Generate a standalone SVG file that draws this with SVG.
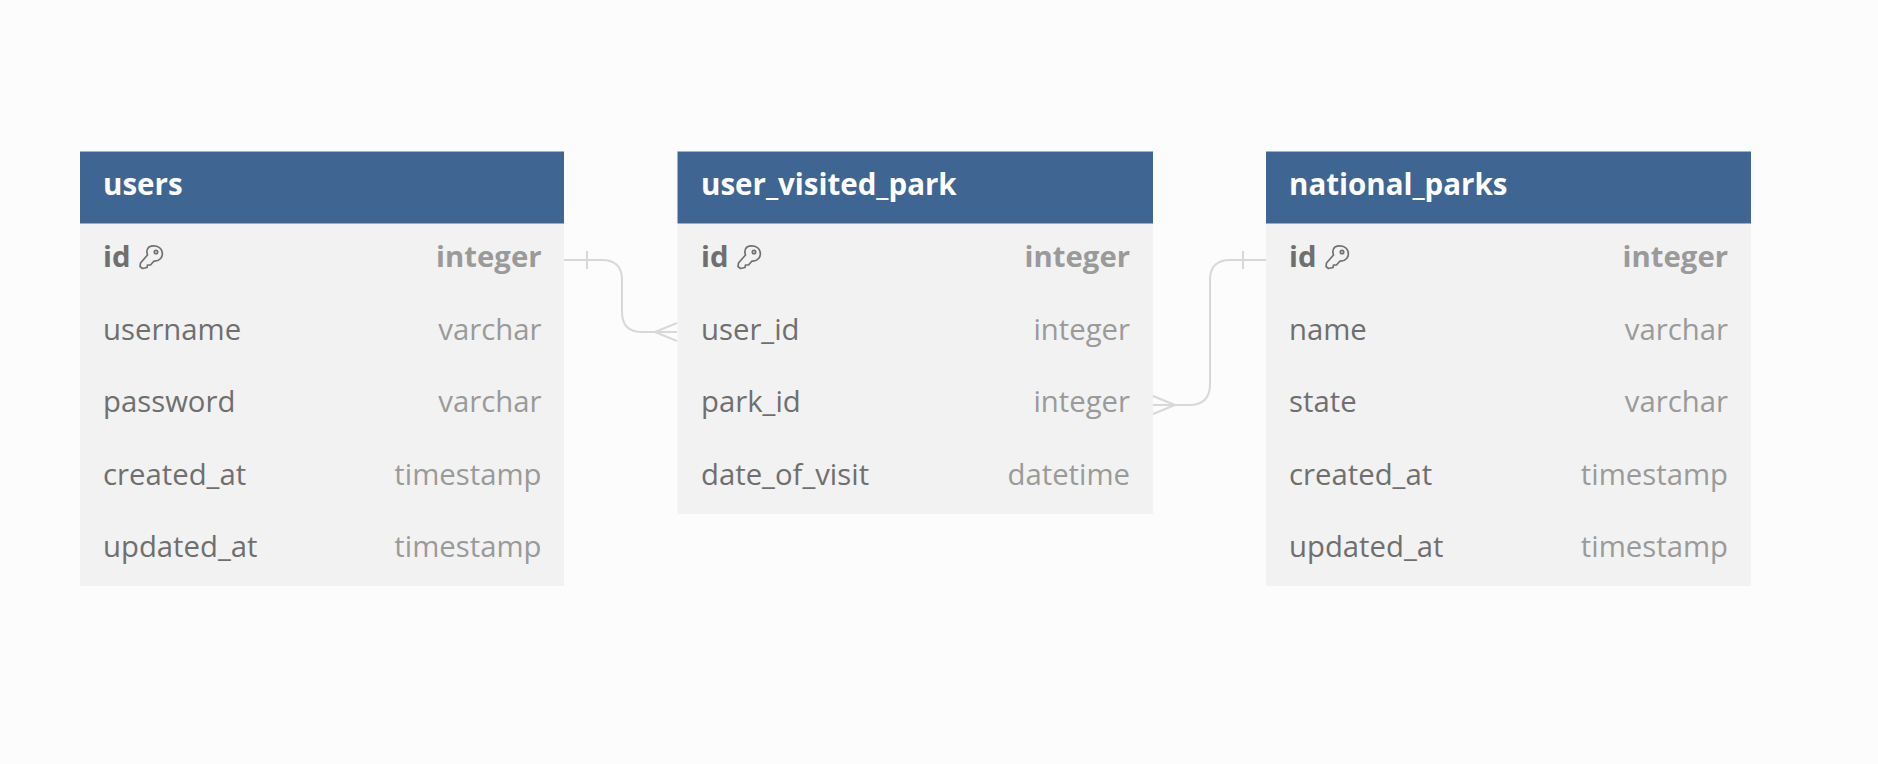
<svg xmlns="http://www.w3.org/2000/svg" xmlns:xlink="http://www.w3.org/1999/xlink" width="1878" height="764" viewBox="0 0 1878 764">
<style>
text{font-family:"Open Sans","Noto Sans",sans-serif;font-size:29.300px}
.bg{fill:#f2f2f2}
.hd{fill:#3f6692}
.t{fill:#fff;font-weight:700;font-size:29.500px}
.n{fill:#6f6f6f}
.y{fill:#9a9a9a;text-anchor:end}
.b{font-weight:700}
.c{fill:none;stroke:#d8d8d8;stroke-width:2}
.k{fill:none;stroke:#707070;stroke-width:1.700;stroke-linejoin:round}
</style>
<defs>
<g id="key"><path class="k" d="M9.500 1.500C14 -1 21 0.500 22.500 6C24 11.500 20 16 14.500 15.500L11 19.500L8 19.500L7.500 22L3 23L0.500 21L1 17.500L8 9.500C7 6.500 7.500 3 9.500 1.500Z"/><circle cx="16.500" cy="6.500" r="1.700" class="k"/></g>
</defs>
<rect width="1878" height="764" fill="#fcfcfc"/>
<g id="connectors">
<path class="c" d="M564 260H602Q622 260 622 280V312Q622 332 642 332H677"/>
<path class="c" d="M587 251V269M655 332L677 323M655 332L677 341"/>
<path class="c" d="M1153 405H1189Q1210 405 1210 384V280Q1210 260 1230 260H1266"/>
<path class="c" d="M1243 251V269M1175 405L1153 396M1175 405L1153 414"/>
</g>
<g id="users">
<rect class="bg" x="80" y="223" width="484" height="363"/>
<rect class="hd" x="80" y="151.500" width="484" height="72"/>
<text class="t" x="103" y="194.500">users</text>
<text class="n b" x="103" y="267">id</text><use xlink:href="#key" href="#key" x="139.500" y="245.500"/><text class="y b" x="541.500" y="267">integer</text>
<text class="n" x="103" y="340">username</text><text class="y" x="541.500" y="340">varchar</text>
<text class="n" x="103" y="412">password</text><text class="y" x="541.500" y="412">varchar</text>
<text class="n" x="103" y="484.500">created_at</text><text class="y" x="541.500" y="484.500">timestamp</text>
<text class="n" x="103" y="557">updated_at</text><text class="y" x="541.500" y="557">timestamp</text>
</g>
<g id="user_visited_park">
<rect class="bg" x="677.500" y="223" width="475.500" height="291"/>
<rect class="hd" x="677.500" y="151.500" width="475.500" height="72"/>
<text class="t" x="701" y="194.500">user_visited_park</text>
<text class="n b" x="701" y="267">id</text><use xlink:href="#key" href="#key" x="737.500" y="245.500"/><text class="y b" x="1130" y="267">integer</text>
<text class="n" x="701" y="340">user_id</text><text class="y" x="1130" y="340">integer</text>
<text class="n" x="701" y="412">park_id</text><text class="y" x="1130" y="412">integer</text>
<text class="n" x="701" y="484.500">date_of_visit</text><text class="y" x="1130" y="484.500">datetime</text>
</g>
<g id="national_parks">
<rect class="bg" x="1266" y="223" width="485" height="363"/>
<rect class="hd" x="1266" y="151.500" width="485" height="72"/>
<text class="t" x="1289" y="194.500">national_parks</text>
<text class="n b" x="1289" y="267">id</text><use xlink:href="#key" href="#key" x="1325.500" y="245.500"/><text class="y b" x="1728" y="267">integer</text>
<text class="n" x="1289" y="340">name</text><text class="y" x="1728" y="340">varchar</text>
<text class="n" x="1289" y="412">state</text><text class="y" x="1728" y="412">varchar</text>
<text class="n" x="1289" y="484.500">created_at</text><text class="y" x="1728" y="484.500">timestamp</text>
<text class="n" x="1289" y="557">updated_at</text><text class="y" x="1728" y="557">timestamp</text>
</g>
</svg>
